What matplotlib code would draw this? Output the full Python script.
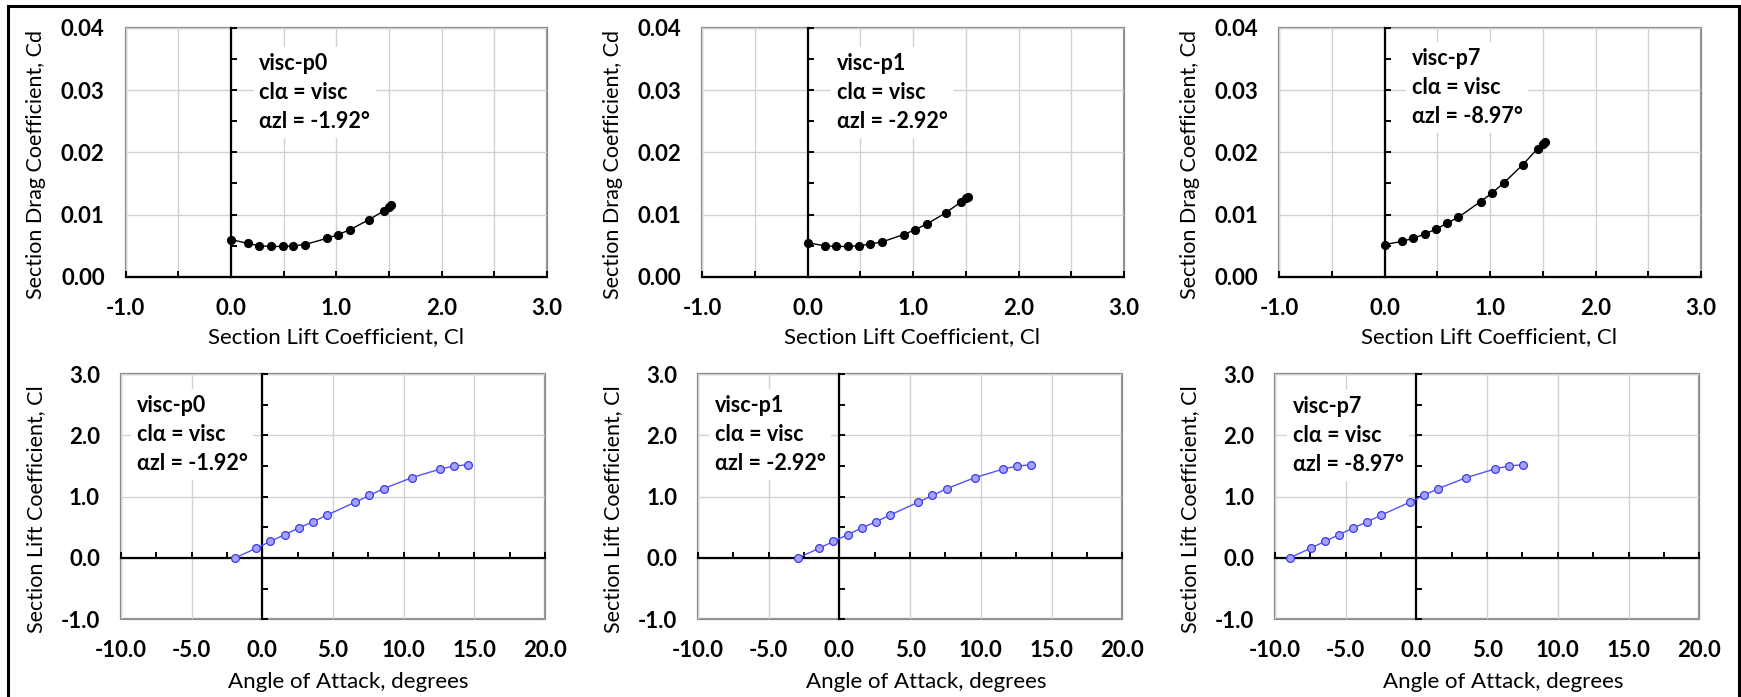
import matplotlib
matplotlib.use("Agg")
import matplotlib.pyplot as plt
from matplotlib import font_manager
from matplotlib.patches import Rectangle
from matplotlib.ticker import MultipleLocator, FormatStrFormatter


def pick_bold_family(candidates):
    for name in candidates:
        for f in font_manager.fontManager.ttflist:
            if f.name == name and f.weight in (700, "bold"):
                return name
    return candidates[-1]


BASE_FONT = pick_bold_family(["Lato", "Open Sans", "Noto Sans", "Liberation Sans", "DejaVu Sans"])
plt.rcParams["font.family"] = [BASE_FONT, "DejaVu Sans"]
plt.rcParams["font.weight"] = "bold"
plt.rcParams["axes.unicode_minus"] = False

# airfoil section data
cases = ["visc-p0", "visc-p1", "visc-p7"]
alpha_zl = ["-1.92", "-2.92", "-8.97"]
cl_values = [0.0, 0.16, 0.27, 0.38, 0.49, 0.59, 0.70, 0.91, 1.02, 1.13, 1.31, 1.45, 1.50, 1.52]
cd_p0 = [0.0060, 0.0054, 0.0050, 0.0049, 0.0049, 0.0050, 0.0052, 0.0062, 0.0068, 0.0076, 0.0092, 0.0106, 0.0113, 0.0116]
cd_p1 = [0.0055, 0.0050, 0.0049, 0.0049, 0.0050, 0.0053, 0.0056, 0.0068, 0.0076, 0.0085, 0.0103, 0.0120, 0.0126, 0.0129]
cd_p7 = [0.0052, 0.0057, 0.0062, 0.0069, 0.0077, 0.0086, 0.0096, 0.0121, 0.0135, 0.0151, 0.0180, 0.0206, 0.0213, 0.0216]
alpha_p0 = [-1.92, -0.42, 0.58, 1.58, 2.58, 3.58, 4.58, 6.58, 7.58, 8.58, 10.58, 12.58, 13.58, 14.58]
alpha_p1 = [-2.92, -1.42, -0.42, 0.58, 1.58, 2.58, 3.58, 5.58, 6.58, 7.58, 9.58, 11.58, 12.58, 13.58]
alpha_p7 = [-8.97, -7.47, -6.47, -5.47, -4.47, -3.47, -2.47, -0.47, 0.53, 1.53, 3.53, 5.53, 6.53, 7.53]
cd_series = [cd_p0, cd_p1, cd_p7]
alpha_series = [alpha_p0, alpha_p1, alpha_p7]

cl_ticks = [-1.0, 0.0, 1.0, 2.0, 3.0]
cd_ticks = [0.00, 0.01, 0.02, 0.03, 0.04]
alpha_ticks = [-10.0, -5.0, 0.0, 5.0, 10.0, 15.0, 20.0]
cl_axis_ticks = [-1.0, 0.0, 1.0, 2.0, 3.0]

FRAME = "#8c8c8c"
GRID = "#d2d2d2"
FS_TICK = 16
FS_XLABEL = 16
FS_YLABEL = 15.5
FS_NOTE = 15.5


def style_axes(ax, xticks, yticks, xmajor, xminor, ymajor, yminor, xfmt, yfmt,
               xlabel, ylabel, xlabel_xy, ylabel_xy):
    ax.set_xlim(xticks[0], xticks[-1])
    ax.set_ylim(yticks[0], yticks[-1])
    ax.patch.set_edgecolor(FRAME)
    ax.patch.set_linewidth(1.6)
    for side in ["top", "right"]:
        ax.spines[side].set_visible(False)
    for side in ["left", "bottom"]:
        ax.spines[side].set_position(("data", 0))
        ax.spines[side].set_color("black")
        ax.spines[side].set_linewidth(1.6)
    ax.xaxis.set_major_locator(MultipleLocator(xmajor))
    ax.xaxis.set_minor_locator(MultipleLocator(xminor))
    ax.yaxis.set_major_locator(MultipleLocator(ymajor))
    ax.yaxis.set_minor_locator(MultipleLocator(yminor))
    ax.tick_params(which="both", direction="in", length=4, width=1.4, color="black",
                   labelbottom=False, labelleft=False)
    ax.grid(which="major", color=GRID, lw=1.0)

    # tick labels sit on the outer frame, Excel style
    secx = ax.secondary_xaxis(0.0)
    secx.set_xticks(xticks)
    secx.xaxis.set_major_formatter(FormatStrFormatter(xfmt))
    secx.tick_params(length=0, pad=15, labelsize=FS_TICK)
    secx.spines["bottom"].set_visible(False)
    secx.set_xlabel(xlabel, fontsize=FS_XLABEL)
    secx.xaxis.set_label_coords(*xlabel_xy, transform=ax.transAxes)
    secx.xaxis.label.set_va("center")

    secy = ax.secondary_yaxis(0.0)
    secy.set_yticks(yticks)
    secy.yaxis.set_major_formatter(FormatStrFormatter(yfmt))
    secy.tick_params(length=0, pad=15, labelsize=FS_TICK)
    secy.spines["left"].set_visible(False)
    secy.set_ylabel(ylabel, fontsize=FS_YLABEL)
    secy.yaxis.set_label_coords(*ylabel_xy, transform=ax.transAxes)
    secy.yaxis.label.set_va("center")


fig = plt.figure(figsize=(17.41, 6.97), dpi=100)

top_lefts = [0.0721, 0.4034, 0.7348]
bot_lefts = [0.0694, 0.4009, 0.7323]
top_text_pos = [(0.317, 0.90), (0.319, 0.90), (0.314, 0.92)]
bot_text_pos = [(0.037, 0.915), (0.040, 0.915), (0.042, 0.91)]

for i in range(3):
    label = f"{cases[i]}\nclα = visc\nαzl = {alpha_zl[i]}°"

    ax = fig.add_axes([top_lefts[i], 0.6026, 0.2422, 0.3577])
    style_axes(ax, cl_ticks, cd_ticks, 0.5, 0.5, 0.01, 0.005, "%.1f", "%.2f",
               "Section Lift Coefficient, Cl", "Section Drag Coefficient, Cd",
               (0.498, -0.24), (-0.212, 0.45))
    ax.plot(cl_values, cd_series[i], "-o", color="black", lw=1.0, ms=5.6,
            zorder=4, clip_on=False)
    tx, ty = top_text_pos[i]
    ax.text(tx, ty, label, transform=ax.transAxes, ha="left", va="top",
            fontsize=FS_NOTE, linespacing=1.48, zorder=3,
            bbox=dict(fc="white", ec="none", pad=4))

    ax = fig.add_axes([bot_lefts[i], 0.1115, 0.2437, 0.3519])
    style_axes(ax, alpha_ticks, cl_axis_ticks, 5.0, 2.5, 1.0, 0.5, "%.1f", "%.1f",
               "Angle of Attack, degrees", "Section Lift Coefficient, Cl",
               (0.537, -0.254), (-0.199, 0.45))
    ax.plot(alpha_series[i], cl_values, "-o", color="#5252ff", lw=1.0, ms=5.6,
            mfc="#a3a3ff", mec="#3a3ae6", mew=0.9, zorder=4, clip_on=False)
    tx, ty = bot_text_pos[i]
    ax.text(tx, ty, label, transform=ax.transAxes, ha="left", va="top",
            fontsize=FS_NOTE, linespacing=1.48, zorder=3,
            bbox=dict(fc="white", ec="none", pad=4))

# outer border of the sheet
fig.add_artist(Rectangle((0.0046, -0.05), 0.9943, 1.042, transform=fig.transFigure,
                         fill=False, ec="black", lw=2.2, clip_on=False))

fig.savefig("out.png", dpi=100)
